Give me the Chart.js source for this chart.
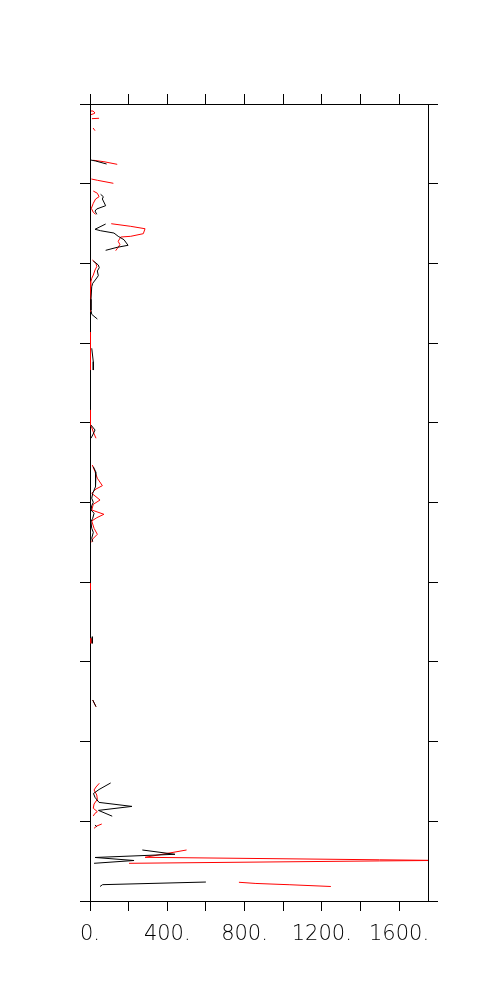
<!DOCTYPE html>
<html>
<head>
<meta charset="utf-8">
<script src="https://cdn.jsdelivr.net/npm/chart.js@4.4.0/dist/chart.umd.min.js"></script>
<style>
html,body{margin:0;padding:0;background:#fff;}
#wrap{width:504px;height:1008px;position:relative;}
</style>
</head>
<body>
<div id="wrap"><canvas id="c" width="504" height="1008"></canvas></div>
<script>
// x value range and tick labels
const xMin = 0, xMax = 1750, xStep = 200, xLabelEvery = 400;
const yMin = 0, yMax = 1000, yStep = 100;

// black profile: [value, depth]; null = gap
const blackProfile = [
  [2,30],[2,33], null,
  [4,70.3],[29,71.5],[86,75.3], null,
  [55,113.3],[69,116.3],[64,119.2],[81,127.6],[35,131.7],[26,134.3],[35,138.4], null,
  [81,150.6],[26,157.2],[55,159],[124,161.9],[146,166],[176,170.3],[197,177.3],[141,179.8],[81,183.6], null,
  [17,197],[43,202],[48,205.4],[38,209.5],[43,215.4],[31,219.6],[14,225],[9,229.2],[5,245],[5,258.5],[9,263.9],[38,269.8], null,
  [9,306.5],[17,323.3],[17,333.8], null,
  [5,402.8],[26,409],[14,415.3],[5,419.4], null,
  [17,455.1],[31,462.1],[31,471.8],[26,480.2],[14,488.5],[9,494.7],[17,499.7],[9,504],[5,509.4],[21,513.5],[14,519.8],[5,524.1],[9,532.4],[17,537.4],[9,544.9],[14,549.2], null,
  [12,668.4],[12,676.7], null,
  [14,747.8],[31,756.2], null,
  [107,851.9],[47,860.1],[18,865.1],[26,870],[47,876.3],[217,881.3],[44,886.3],[115,893.6], null,
  [26,904.6],[35,906.8], null,
  [271,936],[440,941.4],[26,945.4],[228,949.2],[21,952.7], null,
  [52,981.8],[65,979.5],[600,976.2]
];

// red profile: [value, depth]; null = gap
const redProfile = [
  [5,8.8],[16,8.8],[26,11.3],[16,12.5],[5,13.3], null,
  [10,18.4],[47,17.9], null,
  [16,30.1],[26,33.5], null,
  [17,70.6],[72,72.4],[141,75.7], null,
  [7,94.1],[38,95.7],[121,99.5], null,
  [17,109.2],[38,112],[47,116.3],[29,119.2],[17,124.6],[7,130.9],[17,135.9],[29,138.4], null,
  [110,150.2],[211,153.5],[285,156.5],[276,162.7],[211,166],[159,166.9],[146,172.3],[155,176.5],[133,184.1], null,
  [12,195.7],[31,199.9],[35,204.1],[26,208.3],[17,214.6],[9,218.7],[5,223],[2,231.3],[2,261], null,
  [2,286.1],[2,333.8], null,
  [2,383.9],[2,402.8],[10,406.5],[17,411.5],[31,419.4], null,
  [12,453],[26,461.4],[38,469.6],[64,478.9],[31,483.1],[9,488.5],[52,496.9],[17,502.3],[9,509.4],[72,514.8],[35,519.1],[9,523.2],[21,532.4],[38,539.9],[14,545.8],[9,549.9], null,
  [2,601.4],[2,609.8], null,
  [5,670.4],[5,676.7], null,
  [14,747.8],[31,756.2], null,
  [48,852.3],[31,857],[21,860.7],[35,867],[38,872.4],[21,878.3],[17,883.6],[38,887.9],[26,889.9],[17,893.3], null,
  [21,908.8],[35,905.9],[61,903.4], null,
  [500,936],[285,945.2],[1500,948.3],[1811,949.1],[1500,949.7],[202,952.7], null,
  [771,976.5],[859,978],[1035,979.6],[1247,981.8]
];

const seriesColors = ['#000000', '#ff0000'];

function toPoints(arr){
  return arr.map(p => p ? {x:p[0], y:p[1]} : {x:null, y:null});
}

const axisFont = {family:'"DejaVu Sans", sans-serif', size:21, weight:'200'};
function fixSize(prop, v){ return function(s){ s[prop] = v; }; }
const gridOpts = {drawOnChartArea:false, drawTicks:true, tickLength:10, color:'#000', lineWidth:1};
const borderOpts = {display:true, color:'#000', width:1};

new Chart(document.getElementById('c'), {
  type:'scatter',
  data:{datasets:[
    {data:toPoints(blackProfile), showLine:true, borderColor:seriesColors[0], borderWidth:1, pointRadius:0, pointHoverRadius:0, spanGaps:false, tension:0, xAxisID:'x', yAxisID:'y'},
    {data:toPoints(redProfile), showLine:true, borderColor:seriesColors[1], borderWidth:1, pointRadius:0, pointHoverRadius:0, spanGaps:false, tension:0, xAxisID:'x', yAxisID:'y'}
  ]},
  options:{
    responsive:false, animation:false, devicePixelRatio:1,
    layout:{padding:0},
    plugins:{legend:{display:false}, tooltip:{enabled:false}},
    events:[],
    scales:{
      x:{type:'linear', position:'bottom', min:xMin, max:xMax,
         afterFit:fixSize('height', 107),
         ticks:{stepSize:xStep, includeBounds:false, autoSkip:false, maxRotation:0, minRotation:0,
                padding:11, color:'#000', font:axisFont,
                callback:(v)=> (v % xLabelEvery === 0) ? (v + '.') : ''},
         grid:gridOpts, border:borderOpts},
      x2:{type:'linear', position:'top', min:xMin, max:xMax,
         afterFit:fixSize('height', 104),
         ticks:{display:false, stepSize:xStep, includeBounds:false, autoSkip:false},
         grid:gridOpts, border:borderOpts},
      y:{type:'linear', position:'left', min:yMin, max:yMax, reverse:true,
         afterFit:fixSize('width', 90),
         ticks:{display:false, stepSize:yStep, autoSkip:false},
         grid:gridOpts, border:borderOpts},
      y2:{type:'linear', position:'right', min:yMin, max:yMax, reverse:true,
         afterFit:fixSize('width', 76),
         ticks:{display:false, stepSize:yStep, autoSkip:false},
         grid:gridOpts, border:borderOpts}
    }
  }
});
</script>
</body>
</html>
